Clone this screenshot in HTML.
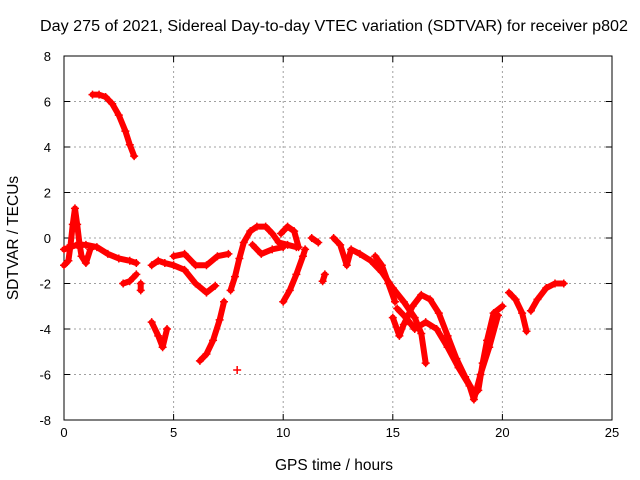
<!DOCTYPE html>
<html><head><meta charset="utf-8"><style>
body{margin:0;background:#fff;}
svg{display:block;font-family:"Liberation Sans",sans-serif;}
</style></head><body>
<svg id="chart" width="640" height="480"></svg>
<script>
const xTicks=[0,5,10,15,20,25];
const yTicks=[-8,-6,-4,-2,0,2,4,6,8];
const trackTopArc=[[1.3,6.3],[1.6,6.3],[1.9,6.2],[2.2,5.9],[2.5,5.4],[2.8,4.7],[3.0,4.1],[3.2,3.6]];
const trackEarlyA=[[0,-1.2],[0.2,-1.0],[0.3,-0.3],[0.4,0.6],[0.5,1.3],[0.6,0.6],[0.7,-0.2],[0.8,-0.8],[1.0,-1.1],[1.2,-0.5]];
const trackEarlyB=[[0,-0.5],[0.3,-0.4],[0.6,-0.3],[1.0,-0.3],[1.5,-0.4],[2.0,-0.7],[2.5,-0.9],[3.0,-1.0],[3.3,-1.1]];
const trackEarlyC=[[2.7,-2.0],[3.0,-1.9],[3.3,-1.6]];
const trackEarlyD=[[3.5,-2.3],[3.5,-2.0]];
const trackMidA=[[4.0,-1.2],[4.3,-1.0],[4.6,-1.1],[5.0,-1.2],[5.5,-1.4],[6.0,-2.0],[6.5,-2.4],[6.9,-2.1]];
const trackMidB=[[4.0,-3.7],[4.3,-4.3],[4.5,-4.8],[4.7,-4.0]];
const trackMidC=[[5.0,-0.8],[5.5,-0.7],[6.0,-1.2],[6.5,-1.2],[7.0,-0.8],[7.5,-0.7]];
const trackMidD=[[6.2,-5.4],[6.5,-5.1],[6.8,-4.5],[7.1,-3.6],[7.3,-2.8]];
const trackMidE=[[7.6,-2.3],[7.8,-1.7],[8.0,-0.9],[8.2,-0.2],[8.5,0.3],[8.8,0.5],[9.2,0.5],[9.5,0.2],[9.8,-0.2],[10.2,-0.3],[10.6,-0.4]];
const trackMidF=[[8.6,-0.3],[9.0,-0.7],[9.5,-0.5],[10.0,-0.4]];
const trackMidG=[[10.0,-2.8],[10.3,-2.3],[10.6,-1.6],[10.9,-0.8],[11.0,-0.5]];
const trackMidH=[[9.9,0.2],[10.2,0.5],[10.5,0.3],[10.7,-0.4]];
const trackMidI=[[7.9,-5.8]];
const trackLateA=[[11.3,0.0],[11.6,-0.2]];
const trackLateB=[[11.8,-1.9],[11.9,-1.6]];
const trackLateC=[[12.3,0.0],[12.6,-0.3],[12.9,-1.2],[13.1,-0.5],[13.5,-0.7],[14.0,-1.0],[14.5,-1.5],[15.0,-2.2],[15.5,-2.8],[16.0,-3.5],[16.3,-4.2],[16.5,-5.5]];
const trackLateD=[[15.0,-3.5],[15.3,-4.3],[15.5,-3.8],[15.9,-3.0],[16.3,-2.5],[16.7,-2.7],[17.1,-3.3],[17.5,-4.3],[17.9,-5.3],[18.3,-6.1],[18.7,-6.8],[18.9,-6.7],[19.1,-5.5],[19.3,-4.5],[19.6,-3.3],[20.0,-3.0]];
const trackLateE=[[15.2,-3.1],[15.6,-3.5],[16.0,-4.0],[16.5,-3.7],[17.0,-4.0],[17.5,-4.8],[18.0,-5.7],[18.5,-6.5],[18.7,-7.1],[19.0,-6.0],[19.4,-4.8],[19.8,-3.4]];
const trackLateF=[[14.2,-0.8],[14.5,-1.2],[14.8,-2.0],[15.1,-2.8]];
const trackEndA=[[20.3,-2.4],[20.6,-2.7],[20.9,-3.3],[21.1,-4.1]];
const trackEndB=[[21.3,-3.2],[21.6,-2.7],[22.0,-2.2],[22.4,-2.0],[22.8,-2.0]];
const tracks=[trackTopArc,trackEarlyA,trackEarlyB,trackEarlyC,trackEarlyD,trackMidA,trackMidB,trackMidC,trackMidD,trackMidE,trackMidF,trackMidG,trackMidH,trackMidI,trackLateA,trackLateB,trackLateC,trackLateD,trackLateE,trackLateF,trackEndA,trackEndB];

const L=64,R=612,T=56,B=420;
const xs=v=>L+(v-0)/25*(R-L);
const ys=v=>B-(v+8)/16*(B-T);
const svg=document.getElementById('chart');
const NS='http://www.w3.org/2000/svg';
function mk(tag,attrs,parent){const e=document.createElementNS(NS,tag);for(const k in attrs)e.setAttribute(k,attrs[k]);(parent||svg).appendChild(e);return e;}

const grid=mk('g',{});


xTicks.forEach(t=>{
  if(t>0&&t<25)mk('line',{x1:xs(t),x2:xs(t),y1:T,y2:B,stroke:'#a0a0a0','stroke-dasharray':'2,3','stroke-width':1},grid);
  const lb=mk('text',{x:xs(t),y:B+17,'text-anchor':'middle','font-size':13,fill:'#000'});
  lb.textContent=t;
  
  
  mk('line',{x1:xs(t),x2:xs(t),y1:B,y2:B-6,stroke:'#000'});
  mk('line',{x1:xs(t),x2:xs(t),y1:T,y2:T+6,stroke:'#000'});
});
yTicks.forEach(t=>{
  if(t>-8&&t<8)mk('line',{x1:L,x2:R,y1:ys(t),y2:ys(t),stroke:'#a0a0a0','stroke-dasharray':'2,3','stroke-width':1},grid);
  const lb=mk('text',{x:L-13,y:ys(t)+5,'text-anchor':'end','font-size':13,fill:'#000'});
  lb.textContent=t;
  
  
  mk('line',{x1:L,x2:L+6,y1:ys(t),y2:ys(t),stroke:'#000'});
  mk('line',{x1:R,x2:R-6,y1:ys(t),y2:ys(t),stroke:'#000'});
});
const frame=mk('rect',{x:L,y:T,width:R-L,height:B-T,fill:'none',stroke:'#000','stroke-width':1});



const series=mk('g',{});


tracks.forEach(tr=>{
  if(tr.length>1){
    const pl=mk('polyline',{points:tr.map(p=>xs(p[0])+','+ys(p[1])).join(' '),fill:'none',stroke:'#ff0000','stroke-width':6,'stroke-linejoin':'round','stroke-linecap':'round'},series);
    
    
  }
  tr.forEach(p=>{
    const cx=xs(p[0]),cy=ys(p[1]);
    const m=mk('path',{d:`M${cx-4},${cy}H${cx+4}M${cx},${cy-4}V${cy+4}`,stroke:'#ff0000','stroke-width':1.5},series);
    
    
  });
});

const title=mk('text',{x:40,y:31,'text-anchor':'start','font-size':15.5,fill:'#000',textLength:588,lengthAdjust:'spacingAndGlyphs'});
title.textContent='Day 275 of 2021, Sidereal Day-to-day VTEC variation (SDTVAR) for receiver p802';


const xt=mk('text',{x:334,y:470,'text-anchor':'middle','font-size':15.5,fill:'#000'});
xt.textContent='GPS time / hours';


const yt=mk('text',{x:18,y:238,'text-anchor':'middle','font-size':15.5,fill:'#000',transform:'rotate(-90 18 238)'});
yt.textContent='SDTVAR / TECUs';


</script>
</body></html>
